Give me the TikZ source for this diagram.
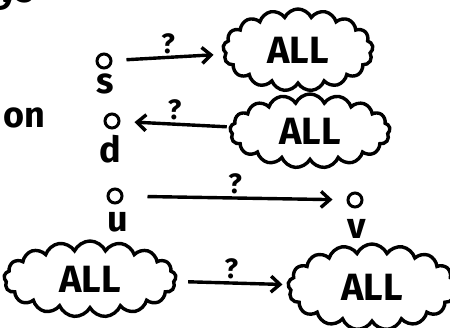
\documentclass[tikz,border=0pt]{standalone}
\usepackage{fontspec}
\setmainfont{Fira Sans}
\usetikzlibrary{shapes.symbols,arrows.meta}

\begin{document}
\begin{tikzpicture}[x=1pt,y=-1pt,line width=3.4pt,>={Straight Barb[length=9pt,width=16pt]},
  hand/.style={font=\fontsize{36}{36}\selectfont\bfseries,inner sep=0pt},
  vert/.style={circle,draw,inner sep=0pt,minimum size=14pt,line width=3pt},
  blob/.style={cloud,draw,cloud puffs=17,cloud puff arc=130,aspect=2,inner sep=0pt,
    font=\fontsize{38}{38}\selectfont\bfseries},
  ask/.style={font=\fontsize{28}{28}\selectfont\bfseries,inner sep=2pt}]
\useasboundingbox (0,0) rectangle (450,327);
\clip (0,0) rectangle (450,327);

\node[hand] (ys) at (16,-3) {ys};
\node[hand] (on) at (24,118) {on};

\node[vert] (s) at (104,61) {};
\node[hand] (s_lbl) at (105,84) {s};
\node[vert] (d) at (112,121) {};
\node[hand] (d_lbl) at (110,149) {d};
\node[vert] (u) at (115,196) {};
\node[hand] (u_lbl) at (118,222) {u};
\node[vert] (v) at (355,200) {};
\node[hand] (v_lbl) at (357,229) {v};

\node[blob,minimum width=150pt,minimum height=82pt] (all1) at (298,50) {ALL};
\node[blob,minimum width=160pt,minimum height=74pt] (all2) at (310,131) {ALL};
\node[blob,minimum width=172pt,minimum height=76pt] (all3) at (90,279) {ALL};
\node[blob,minimum width=168pt,minimum height=86pt] (all4) at (372,287) {ALL};

\path[->]
(s) edge [shorten <=14pt, shorten >=10pt] node[ask,above] {?} (all1)
(all2) edge [shorten <=2pt, shorten >=14pt] node[ask,above] {?} (d)
(u) edge [shorten <=24pt, shorten >=14pt] node[ask,above] {?} (v)
(all3) edge [shorten <=12pt, shorten >=4pt] node[ask,above] {?} (all4)
; %end path
\end{tikzpicture}
\end{document}
